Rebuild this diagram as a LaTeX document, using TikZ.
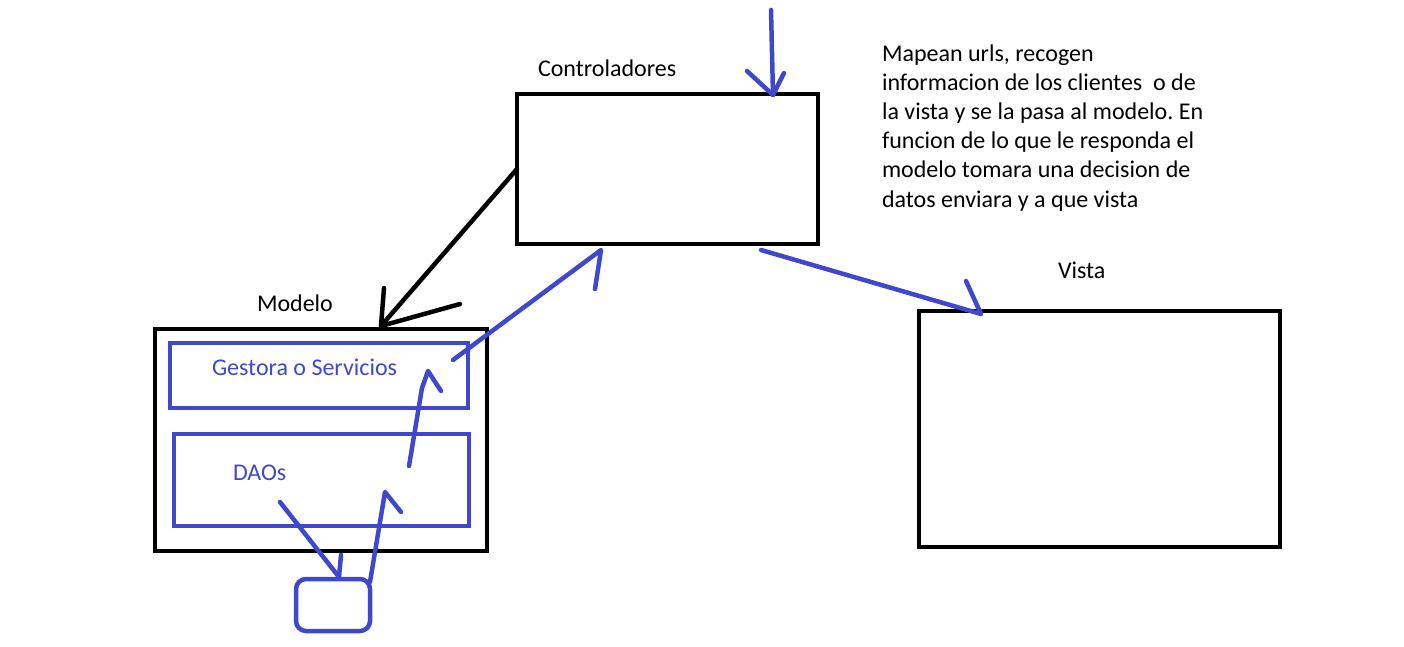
\documentclass[tikz,border=0pt]{standalone}
\usepackage{fontspec}
\setmainfont{Carlito}
\frenchspacing
\definecolor{pblue}{RGB}{63,72,204}
\begin{document}
\begin{tikzpicture}[x=1pt,y=-1pt,
  every node/.style={inner sep=0pt,outer sep=0pt},
  blackbox/.style={draw=black,line width=4.5pt,fill=none},
  bluebox/.style={draw=pblue,line width=4.5pt,fill=none},
  lbl/.style={font=\fontsize{24}{29}\selectfont,anchor=base west},
  bluelbl/.style={lbl,text=pblue},
  bstroke/.style={draw=pblue,line width=4.5pt,line cap=round,line join=round},
  kstroke/.style={draw=black,line width=4.5pt,line cap=round,line join=round}]
\useasboundingbox (0,0) rectangle (1404,647);
\fill[white] (0,0) rectangle (1404,647);
% boxes
\node[blackbox,minimum width=301pt,minimum height=150pt] (ctrl) at (667.5,169) {};
\node[blackbox,minimum width=332pt,minimum height=222pt] (modelo) at (321,440) {};
\node[blackbox,minimum width=361pt,minimum height=236pt] (vista) at (1099.5,429) {};
\node[bluebox,minimum width=298pt,minimum height=65pt] (gestora) at (319,375.5) {};
\node[bluebox,minimum width=295pt,minimum height=92pt] (daos) at (321.5,480) {};
\node[bluebox,rounded corners=10pt,minimum width=74pt,minimum height=52pt] (db) at (333,605) {};
% labels
\node[lbl] (tctrl) at (538,77) {Controladores};
\node[lbl] (tmod) at (257,311) {Modelo};
\node[lbl] (tvis) at (1058,278) {Vista};
\node[bluelbl] (tges) at (212,375) {Gestora o Servicios};
\node[bluelbl] (tdao) at (233,480) {DAOs};
% description
\node[lbl] (d1) at (882,62) {Mapean urls, recogen};
\node[lbl] (d2) at (882,91) {informacion de los clientes\ \ o de};
\node[lbl] (d3) at (882,120) {la vista y se la pasa al modelo. En};
\node[lbl] (d4) at (882,149) {funcion de lo que le responda el};
\node[lbl] (d5) at (882,178) {modelo tomara una decision de};
\node[lbl] (d6) at (882,207) {datos enviara y a que vista};
% coordinates
\coordinate (inS) at (771,10);
\coordinate (inE) at (773,95);
\coordinate (inB1) at (747,71);
\coordinate (inB2) at (784,73);
\coordinate (cmS) at (517,169);
\coordinate (cmE) at (381,326);
\coordinate (cmB1) at (384,288);
\coordinate (cmB2) at (460,304);
\coordinate (cvS) at (761,250);
\coordinate (cvE) at (981,314);
\coordinate (cvB) at (966,281);
\coordinate (mcS) at (453,360);
\coordinate (mcE) at (601,250);
\coordinate (mcB) at (595,289);
\coordinate (ddS) at (280,502);
\coordinate (ddE) at (339,577);
\coordinate (ddB) at (341,555);
\coordinate (duS) at (370,582);
\coordinate (duE) at (385,492);
\coordinate (duB) at (401,512);
\coordinate (guS) at (409,466);
\coordinate (guM) at (422,388);
\coordinate (guE) at (428,371);
\coordinate (guB) at (441,391);
% connectors
\draw[bstroke] (inS) -- (inE);
\draw[bstroke] (inB1) -- (inE) -- (inB2);
\draw[kstroke] (cmS) -- (cmE);
\draw[kstroke] (cmB1) -- (cmE) -- (cmB2);
\draw[bstroke] (cvS) -- (cvE) -- (cvB);
\draw[bstroke] (mcS) -- (mcE) -- (mcB);
\draw[bstroke] (ddS) -- (ddE) -- (ddB);
\draw[bstroke] (duS) -- (duE) -- (duB);
\draw[bstroke] (guS) -- (guM) -- (guE) -- (guB);
\end{tikzpicture}
\end{document}
